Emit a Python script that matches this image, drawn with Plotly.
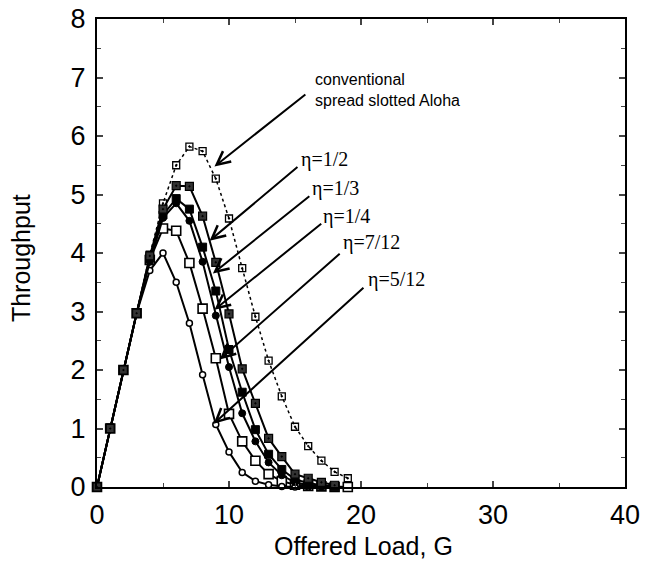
import plotly.graph_objects as go

G_conv = list(range(0, 20))
T_conv = [0, 1.02, 2.0, 2.97, 3.97, 4.85, 5.5, 5.82, 5.74, 5.27, 4.59, 3.74, 2.91, 2.16, 1.55, 1.03, 0.70, 0.45, 0.26, 0.15]

G_h = list(range(0, 19))
T_h = [0, 1.0, 2.0, 2.97, 3.95, 4.75, 5.15, 5.14, 4.63, 3.84, 2.96, 2.02, 1.43, 0.83, 0.52, 0.22, 0.15, 0.08, 0.03]

G_t = list(range(0, 19))
T_t = [0, 1.0, 2.0, 2.97, 3.92, 4.65, 4.93, 4.75, 4.10, 3.35, 2.35, 1.62, 0.98, 0.56, 0.30, 0.13, 0.07, 0.03, 0.01]

G_q = list(range(0, 18))
T_q = [0, 1.0, 2.0, 2.97, 3.85, 4.60, 4.85, 4.55, 3.85, 2.93, 2.05, 1.26, 0.78, 0.42, 0.20, 0.08, 0.03, 0.01]

G_s = list(range(0, 20))
T_s = [0, 1.0, 2.0, 2.97, 3.88, 4.42, 4.38, 3.83, 3.05, 2.20, 1.25, 0.78, 0.45, 0.22, 0.10, 0.04, 0.02, 0.01, 0.0, 0.0]

G_f = list(range(0, 17))
T_f = [0, 1.0, 2.0, 2.97, 3.70, 4.00, 3.50, 2.80, 1.92, 1.07, 0.60, 0.25, 0.10, 0.04, 0.01, 0.0, 0.0]

labels = ["conventional<br>spread slotted Aloha", "η=1/2", "η=1/3", "η=1/4", "η=7/12", "η=5/12"]
heads = [(8.9, 5.48), (8.53, 4.21), (8.78, 3.65), (8.9, 3.03), (9.3, 2.18), (8.84, 1.08)]
tails = [(15.9, 6.73), (15.3, 5.49), (16.2, 4.99), (17.1, 4.52), (18.5, 4.01), (20.3, 3.43)]
text_pos = [(16.4, 6.78), (15.3, 5.6), (16.1, 5.1), (17.0, 4.62), (18.5, 4.18), (20.4, 3.55)]

x_title = "Offered Load, G"
y_title = "Throughput"

fig = go.Figure()

fig.add_trace(go.Scatter(x=G_conv, y=T_conv, mode="lines+markers",
                         line=dict(color="black", width=1.5, dash="dot"),
                         marker=dict(symbol="square-open-dot", size=7, color="black", line=dict(width=1.3)),
                         cliponaxis=False))
fig.add_trace(go.Scatter(x=G_s, y=T_s, mode="lines+markers",
                         line=dict(color="black", width=2),
                         marker=dict(symbol="square", size=9, color="white", line=dict(color="black", width=1.6)),
                         cliponaxis=False))
fig.add_trace(go.Scatter(x=G_f, y=T_f, mode="lines+markers",
                         line=dict(color="black", width=2),
                         marker=dict(symbol="circle", size=6, color="white", line=dict(color="black", width=1.5)),
                         cliponaxis=False))
fig.add_trace(go.Scatter(x=G_q, y=T_q, mode="lines+markers",
                         line=dict(color="black", width=2),
                         marker=dict(symbol="circle", size=7, color="black", line=dict(color="black", width=1)),
                         cliponaxis=False))
fig.add_trace(go.Scatter(x=G_t, y=T_t, mode="lines+markers",
                         line=dict(color="black", width=2),
                         marker=dict(symbol="square", size=8, color="black", line=dict(color="black", width=1)),
                         cliponaxis=False))
fig.add_trace(go.Scatter(x=G_h, y=T_h, mode="lines+markers",
                         line=dict(color="black", width=2),
                         marker=dict(symbol="square-dot", size=8, color="#333333", line=dict(color="black", width=1.2)),
                         cliponaxis=False))

for i, lab in enumerate(labels):
    hx, hy = heads[i]
    tx, ty = tails[i]
    fig.add_annotation(x=hx, y=hy, ax=tx, ay=ty, xref="x", yref="y", axref="x", ayref="y",
                       text="", showarrow=True, arrowhead=5, arrowsize=1.3, arrowwidth=2, arrowcolor="black")
    px, py = text_pos[i]
    if i == 0:
        fnt = dict(family="Liberation Sans, Arial", size=16, color="black")
    else:
        fnt = dict(family="Liberation Serif, Times New Roman", size=20, color="black")
    fig.add_annotation(x=px, y=py, xref="x", yref="y", text=lab, showarrow=False,
                       xanchor="left", yanchor="middle", align="left", font=fnt)

fig.add_annotation(x=0.505, y=-0.125, xref="paper", yref="paper", text=x_title, showarrow=False,
                   xanchor="center", yanchor="middle", font=dict(family="Liberation Sans, Arial", size=25))
fig.add_annotation(x=-0.145, y=0.49, xref="paper", yref="paper", text=y_title, showarrow=False,
                   textangle=-90, xanchor="center", yanchor="middle",
                   font=dict(family="Liberation Sans, Arial", size=25))

fig.update_layout(
    width=645, height=562,
    margin=dict(l=97, r=20, t=19, b=75),
    plot_bgcolor="white", paper_bgcolor="white",
    showlegend=False,
    font=dict(family="Liberation Sans, Arial", color="black"),
)
fig.update_xaxes(range=[0, 40], tickvals=[0, 10, 20, 30, 40], ticks="inside", ticklen=6, tickwidth=1.5,
                 minor=dict(tickvals=[5, 15, 25, 35], ticks="inside", ticklen=4, tickwidth=1),
                 showline=True, linecolor="black", linewidth=2, mirror="allticks", showgrid=False, zeroline=False,
                 tickfont=dict(size=27), ticklabelstandoff=3, automargin=False)
fig.update_yaxes(range=[0, 8], tickvals=list(range(0, 9)), ticks="inside", ticklen=6, tickwidth=1.5,
                 minor=dict(tickvals=[k + 0.5 for k in range(8)], ticks="inside", ticklen=4, tickwidth=1),
                 showline=True, linecolor="black", linewidth=2, mirror="allticks", showgrid=False, zeroline=False,
                 tickfont=dict(size=27), ticklabelstandoff=4, automargin=False)

fig.write_html("out.html")
